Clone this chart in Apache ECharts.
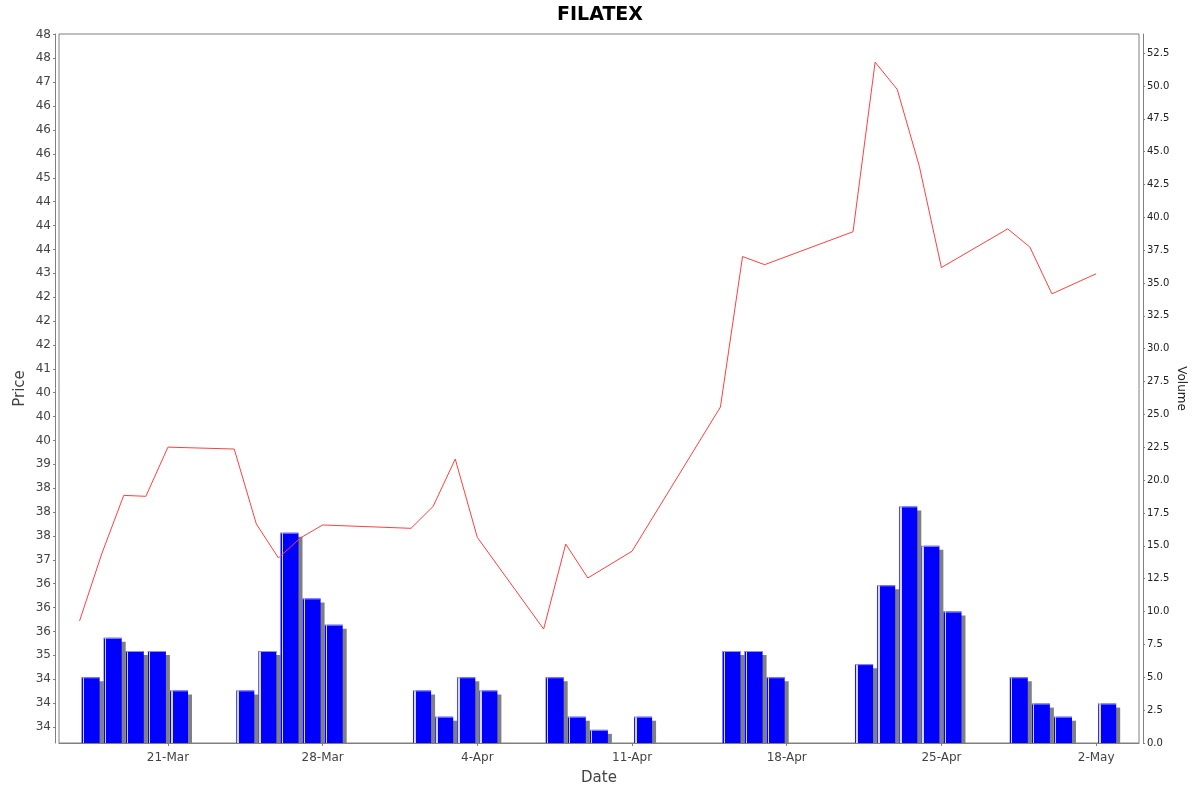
<!DOCTYPE html>
<html>
<head>
<meta charset="utf-8">
<script src="https://cdn.jsdelivr.net/npm/echarts@6/dist/echarts.min.js"></script>
<style>
html,body{margin:0;padding:0;background:#fff;}
#chart{width:1200px;height:792px;}
</style>
</head>
<body>
<div id="chart"></div>
<script>
const dates = ['2025-03-17','2025-03-18','2025-03-19','2025-03-20','2025-03-21',
  '2025-03-24','2025-03-25','2025-03-26','2025-03-27','2025-03-28',
  '2025-04-01','2025-04-02','2025-04-03','2025-04-04',
  '2025-04-07','2025-04-08','2025-04-09','2025-04-11',
  '2025-04-15','2025-04-16','2025-04-17',
  '2025-04-21','2025-04-22','2025-04-23','2025-04-24','2025-04-25',
  '2025-04-28','2025-04-29','2025-04-30','2025-05-02'];
const prices = [35.72,37.12,38.35,38.33,39.36,
  39.32,37.75,37.04,37.46,37.73,
  37.66,38.12,39.11,37.47,
  35.55,37.33,36.62,37.18,
  40.20,43.35,43.18,
  43.87,47.42,46.85,45.24,43.12,
  43.93,43.55,42.57,42.99];
const volumes = [5,8,7,7,4,
  4,7,16,11,9,
  4,2,5,4,
  5,2,1,2,
  7,7,5,
  6,12,18,15,10,
  5,3,2,3];
const dateTicks = ['2025-03-21','2025-03-28','2025-04-04','2025-04-11','2025-04-18','2025-04-25','2025-05-02'];
const priceTicks = [33.5,34,34.5,35,35.5,36,36.5,37,37.5,38,38.5,39,39.5,40,40.5,41,41.5,42,42.5,43,43.5,44,44.5,45,45.5,46,46.5,47,47.5,48];
const volumeTicks = [0,2.5,5,7.5,10,12.5,15,17.5,20,22.5,25,27.5,30,32.5,35,37.5,40,42.5,45,47.5,50,52.5];
const monthNames = ['Jan','Feb','Mar','Apr','May','Jun','Jul','Aug','Sep','Oct','Nov','Dec'];

const DAY = 86400000;
const ts = s => { const p = s.split('-').map(Number); return Date.UTC(p[0], p[1]-1, p[2]); };
const lineData = dates.map((d,i) => [ts(d), prices[i]]);
const barData = dates.map((d,i) => [ts(d) + DAY/2, volumes[i]]);
const ref = ts('2025-03-21');

function halfEven(v){
  const f = Math.floor(v + 1e-9);
  const d = v - f;
  if (Math.abs(d - 0.5) < 1e-6) return String(f % 2 === 0 ? f : f + 1);
  return String(Math.round(v));
}

const barFill = new echarts.graphic.LinearGradient(0, 0, 1, 0, [
  {offset: 0, color: '#0000ff'}, {offset: 0.06, color: '#0000ff'},
  {offset: 0.06, color: '#d4d4ff'}, {offset: 0.14, color: '#d4d4ff'},
  {offset: 0.14, color: '#0000ff'}, {offset: 1, color: '#0000ff'}]);

function renderBar(params, api){
  const top = api.coord([api.value(0), api.value(1)]);
  const base = api.coord([api.value(0), 0]);
  const w = 18;
  const x = top[0] - w/2, y = top[1], h = base[1] - top[1];
  return {
    type: 'group',
    children: [
      {type: 'rect', shape: {x: x + 4, y: y + 4, width: w, height: h}, style: {fill: '#808080'}},
      {type: 'rect', shape: {x: x, y: y, width: w, height: h}, style: {fill: barFill}},
      {type: 'rect', shape: {x: x, y: y, width: w, height: 1}, style: {fill: '#8c8cff'}}
    ]
  };
}

const chart = echarts.init(document.getElementById('chart'));
const FONT = 'DejaVu Sans';
chart.setOption({
  animation: false,
  backgroundColor: '#ffffff',
  title: {
    text: 'FILATEX', left: 'center', top: 1,
    textStyle: {fontFamily: FONT, fontWeight: 'bold', fontSize: 19, color: '#000'}
  },
  grid: {left: 59, right: 61, top: 34, bottom: 49, show: true, borderColor: '#808080', borderWidth: 1, backgroundColor: '#fff'},
  xAxis: {
    type: 'value',
    min: ref - 4.93*DAY, max: ref + 43.94*DAY,
    offset: 4,
    name: 'Date', nameLocation: 'middle', nameGap: 24,
    nameTextStyle: {fontFamily: FONT, fontSize: 15, color: '#444'},
    axisLine: {show: true, lineStyle: {color: '#808080'}},
    axisTick: {show: true, length: 3, lineStyle: {color: '#808080'}, customValues: dateTicks.map(ts)},
    axisLabel: {fontFamily: FONT, fontSize: 12, color: '#444', margin: 5,
      customValues: dateTicks.map(ts),
      formatter: v => { const d = new Date(v); return d.getUTCDate() + '-' + monthNames[d.getUTCMonth()]; }},
    splitLine: {show: false}
  },
  yAxis: [{
    type: 'value', position: 'left',
    min: 33.165, max: 48.01, offset: 4,
    name: 'Price', nameLocation: 'middle', nameGap: 27, nameMoveOverlap: false,
    nameTextStyle: {fontFamily: FONT, fontSize: 15, color: '#444'},
    axisLine: {show: true, lineStyle: {color: '#808080'}},
    axisTick: {show: true, length: 2, lineStyle: {color: '#808080'}, customValues: priceTicks},
    axisLabel: {fontFamily: FONT, fontSize: 12, color: '#444', margin: 4,
      customValues: priceTicks, formatter: v => halfEven(v)},
    splitLine: {show: false}
  }, {
    type: 'value', position: 'right',
    min: 0, max: 53.95, offset: 4,
    name: 'Volume', nameLocation: 'middle', nameGap: 32, nameRotate: -90, nameMoveOverlap: false,
    nameTextStyle: {fontFamily: FONT, fontSize: 12, color: '#222'},
    axisLine: {show: true, lineStyle: {color: '#808080'}},
    axisTick: {show: true, length: 2, lineStyle: {color: '#808080'}, customValues: volumeTicks},
    axisLabel: {fontFamily: FONT, fontSize: 10, color: '#222', margin: 4,
      customValues: volumeTicks, formatter: v => v.toFixed(1)},
    splitLine: {show: false}
  }],
  series: [{
    type: 'custom', name: 'Volume', yAxisIndex: 1, data: barData, clip: true, z: 2,
    renderItem: renderBar, encode: {x: 0, y: 1}
  }, {
    type: 'line', name: 'Price', yAxisIndex: 0, data: lineData, showSymbol: false, z: 5,
    lineStyle: {color: '#ff4040', width: 1}, itemStyle: {color: '#ff4040'}
  }]
});
</script>
</body>
</html>
